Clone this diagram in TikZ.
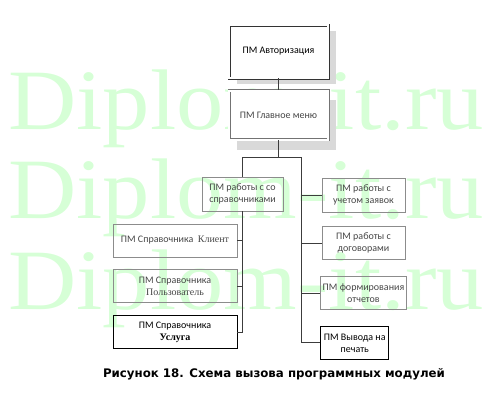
\documentclass[tikz,border=0pt]{standalone}
\usepackage{fontspec}
\setmainfont{Carlito}
\newfontfamily\capfont{DejaVu Sans}
\newfontfamily\serifru{Liberation Serif}
\usepackage{tikz}
\usetikzlibrary{positioning, backgrounds, calc}

\definecolor{wmgreen}{RGB}{214,255,214}
\definecolor{boxgray}{RGB}{140,140,140}
\definecolor{linegray}{RGB}{60,60,60}
\definecolor{shadowgray}{RGB}{217,217,217}
\definecolor{textgray}{RGB}{70,70,70}

\begin{document}
\begin{tikzpicture}[
	x = 1pt, y = -1pt, % pixel grid, y downwards
	node distance = 12pt, % distance between boxes
	every node/.style = {inner sep=2pt},
	line width = 0.9pt % line style
	]

	\tikzstyle{module}=[
	draw = boxgray,
	rectangle,
	align = center,
	text = textgray,
	font = \fontsize{10}{12}\selectfont,
	line width = 0.8pt
	]
	\tikzstyle{mainmodule}=[
	module,
	fill = white,
	double = white,
	double distance = 1.4pt,
	minimum width = 99pt
	]
	\tikzstyle{watermark}=[
	anchor = base west,
	text = wmgreen,
	font = \serifru\fontsize{86}{86}\selectfont
	]
	\tikzstyle{link}=[draw = linegray]

	\useasboundingbox (0,0) rectangle (490,400);

	\node[mainmodule, draw=black!80, text=black, minimum height=53pt] (auth) at (278.5,51.5) {ПМ Авторизация};
	\node[mainmodule, draw=black!55, minimum height=49pt] (menu) [below=12pt of auth] {ПМ Главное меню};

	\node[module, minimum width=81pt, minimum height=34pt] (sprav) at (242.5,194) {ПМ работы с со\\справочниками};
	\node[module, minimum width=124pt, minimum height=33pt] (klient) at (175,240.5) {ПМ Справочника \ {\serifru Клиент}};
	\node[module, minimum width=124pt, minimum height=33pt] (polz) [below=of klient] {ПМ Справочника\\{\serifru Пользователь}};
	\node[module, draw=black, text=black, minimum width=124pt, minimum height=33pt] (usluga) [below=of polz] {ПМ Справочника\\{\serifru\bfseries Услуга}};

	\node[module, minimum width=83pt, minimum height=34pt] (zayav) at (363.5,195) {ПМ работы с\\учетом заявок};
	\node[module, minimum width=83pt, minimum height=33pt] (dogov) [below=14pt of zayav] {ПМ работы с\\договорами};
	\node[module, minimum width=83pt, minimum height=33pt] (otchet) [below=16pt of dogov] {ПМ формирования\\отчетов};
	\node[module, draw=black, text=black, minimum width=68pt, minimum height=33pt] (pechat) [below=16pt of otchet.south west, anchor=north west] {ПМ Вывода на\\печать};

	\node[anchor=base, font=\capfont\bfseries\fontsize{11.8}{14}\selectfont] (caption) at (274,377) {Рисунок 18. Схема вызова программных модулей};

	% watermark and shadows behind the boxes
	\begin{scope}[on background layer]
		\foreach \y/\n in {129/1, 218/2, 309/3}
			\node[watermark] (wm\n) at (6,\y) {\scalebox{1.1}[1]{Diplom-it.ru}};
		\fill[shadowgray] ([shift={(8,6)}]auth.north west) rectangle ([shift={(8,6)}]auth.south east);
		\fill[shadowgray] ([shift={(8,10)}]menu.north west) rectangle ([shift={(8,10)}]menu.south east);
	\end{scope}

	\coordinate (trunk) at ($(zayav.west)+(-20,0)$);

	\path[link] (auth) edge (menu);
	\draw[link] (menu.south) -- ++(0,17) coordinate (fork);
	\draw[link] (sprav.north) |- (trunk |- fork) -- (trunk |- pechat.west) -- (pechat.west);
	\foreach \n in {zayav, dogov, otchet}
		\draw[link] (trunk |- \n.west) -- (\n.west);
	\draw[link] (sprav.south) -- (sprav.south |- usluga.east) -- (usluga.east);
	\foreach \n in {klient, polz}
		\draw[link] (sprav.south |- \n.east) -- (\n.east);

\end{tikzpicture}
\end{document}
